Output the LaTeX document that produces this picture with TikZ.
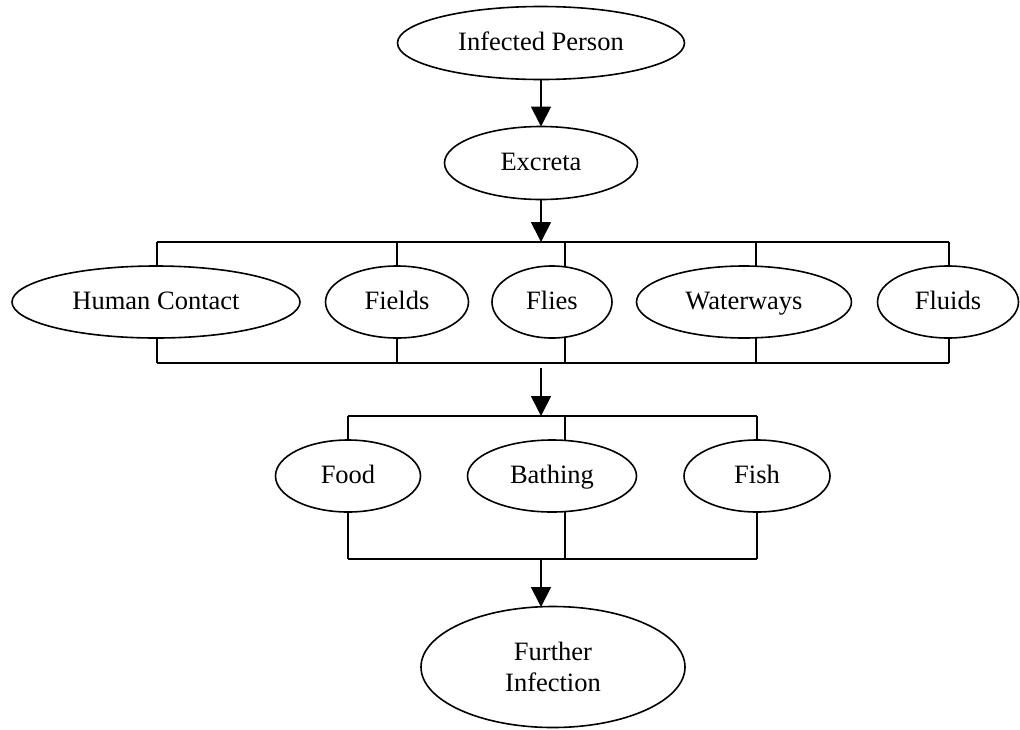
\documentclass[tikz,border=0pt]{standalone}
\usepackage{fontspec}
\setmainfont{Liberation Serif}
\usetikzlibrary{shapes.geometric,arrows.meta}
\begin{document}
\begin{tikzpicture}[x=1pt,y=-1pt,
  oval/.style={draw,ellipse,line width=1.6pt,inner sep=0pt,outer sep=0pt,
    font=\fontsize{26.5}{31}\selectfont,align=center},
  one/.style={oval,text height=19pt,text depth=4pt},
  link/.style={line width=1.8pt},
  flow/.style={line width=1.8pt,-{Triangle[length=20pt,width=20pt]}}]
\useasboundingbox (0,0) rectangle (1020,729);
% nodes
\node[one,minimum width=287pt,minimum height=73pt] (ip) at (541,43) {Infected Person};
\node[one,minimum width=193pt,minimum height=73pt] (ex) at (541,163) {Excreta};
\node[one,minimum width=288pt,minimum height=72pt] (hc) at (156,302) {Human Contact};
\node[one,minimum width=143pt,minimum height=72pt] (fi) at (397,302) {Fields};
\node[one,minimum width=120pt,minimum height=72pt] (fl) at (552,302) {Flies};
\node[one,minimum width=215pt,minimum height=72pt] (ww) at (744,302) {Waterways};
\node[one,minimum width=141pt,minimum height=72pt] (fu) at (948,302) {Fluids};
\node[one,minimum width=145pt,minimum height=72pt] (fo) at (348,476) {Food};
\node[one,minimum width=169pt,minimum height=72pt] (ba) at (552,476) {Bathing};
\node[one,minimum width=146pt,minimum height=72pt] (fs) at (757,476) {Fish};
\node[oval,minimum width=264pt,minimum height=121pt] (fin) at (553,667) {Further\\Infection};
% bar coordinates
\coordinate (aL) at (157,242);  \coordinate (aR) at (949,242);
\coordinate (bL) at (157,363);  \coordinate (bR) at (949,363);
\coordinate (cL) at (348,416);  \coordinate (cR) at (757,416);
\coordinate (dL) at (348,559);  \coordinate (dR) at (757,559);
\coordinate (a1) at (541,242);
\coordinate (b1) at (541,368);
\coordinate (c1) at (541,416);
\coordinate (d1) at (541,559);
\coordinate (e1) at (541,607);
% arrows
\draw[flow] (ip) -- (ex);
\draw[flow] (ex) -- (a1);
\draw[flow] (b1) -- (c1);
\draw[flow] (d1) -- (e1);
% row 1 bars
\draw[link] (aL) -- (aR);
\draw[link] (bL) -- (bR);
\foreach \n/\x in {hc/157,fi/397,fl/565,ww/756,fu/949}{
  \coordinate (t\n) at (\x,242);
  \coordinate (u\n) at (\x,363);
  \draw[link] (t\n) -- (t\n |- \n.north);
  \draw[link] (u\n |- \n.south) -- (u\n);
}
% row 2 bars
\draw[link] (cL) -- (cR);
\draw[link] (dL) -- (dR);
\foreach \n/\x in {fo/348,ba/565,fs/757}{
  \coordinate (t\n) at (\x,416);
  \coordinate (u\n) at (\x,559);
  \draw[link] (t\n) -- (t\n |- \n.north);
  \draw[link] (u\n |- \n.south) -- (u\n);
}
\end{tikzpicture}
\end{document}
